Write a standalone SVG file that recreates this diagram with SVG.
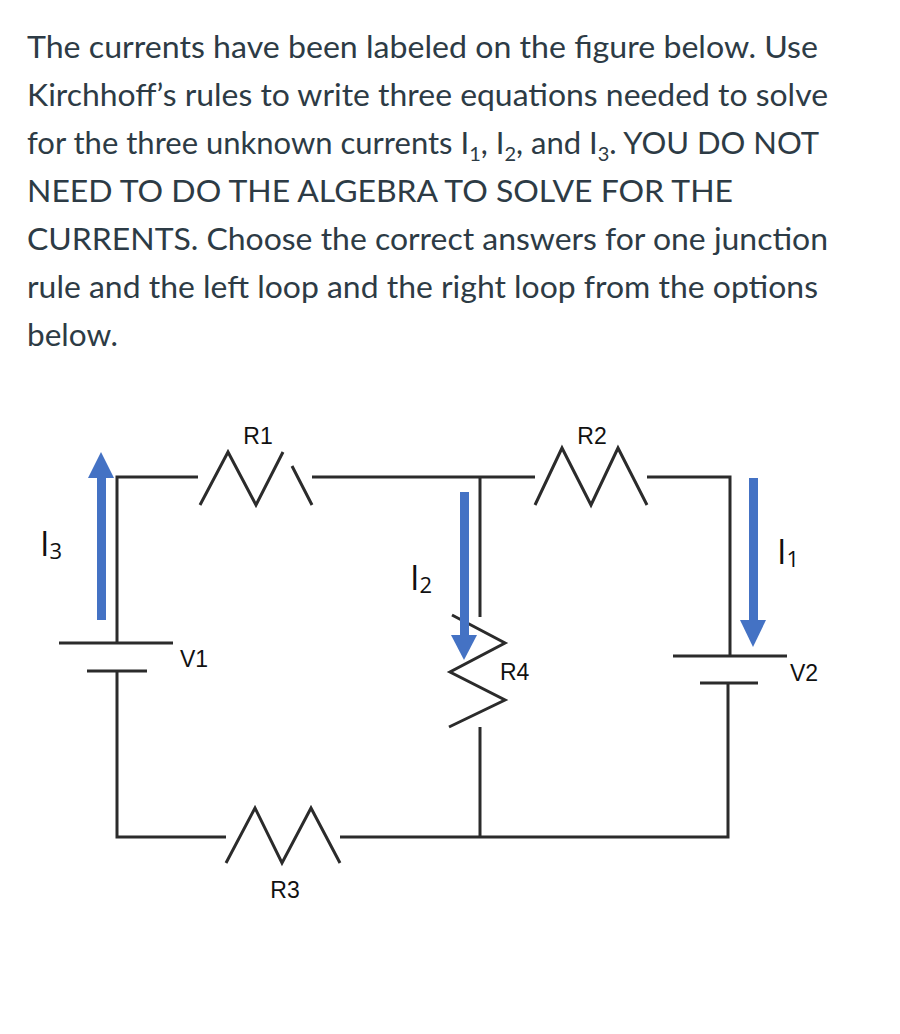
<svg xmlns="http://www.w3.org/2000/svg" width="900" height="1034" viewBox="0 0 900 1034">
<style>
.p{font-family:Lato,"Open Sans",sans-serif;font-size:31px;fill:#2d3b45}
.w{stroke:#2b2b2b;stroke-width:3;fill:none}
.l{font-family:"Liberation Sans",Arial,sans-serif;font-size:23px;fill:#111}
.c{font-family:"Open Sans",Lato,sans-serif;font-size:34px;fill:#111}
.a{fill:#4472c4}
</style>
<rect width="900" height="1034" fill="#fff"/>
<g id="question">
<text class="p" x="27" y="58" textLength="791" lengthAdjust="spacingAndGlyphs">The currents have been labeled on the figure below.  Use</text>
<text class="p" x="27" y="106" textLength="801" lengthAdjust="spacingAndGlyphs">Kirchhoff’s rules to write three equations needed to solve</text>
<text class="p" x="27" y="154">for the three unknown currents I<tspan font-size="20" dy="7">1</tspan><tspan dy="-7">, I</tspan><tspan font-size="20" dy="7">2</tspan><tspan dy="-7">, and I</tspan><tspan font-size="20" dy="7">3</tspan><tspan dy="-7">.  YOU DO NOT</tspan></text>
<text class="p" x="27" y="202" textLength="706" lengthAdjust="spacingAndGlyphs">NEED TO DO THE ALGEBRA TO SOLVE FOR THE</text>
<text class="p" x="27" y="250" textLength="801" lengthAdjust="spacingAndGlyphs">CURRENTS. Choose the correct answers for one junction</text>
<text class="p" x="27" y="298" textLength="791" lengthAdjust="spacingAndGlyphs">rule and the left loop and the right loop from the options</text>
<text class="p" x="27" y="346" textLength="91" lengthAdjust="spacingAndGlyphs">below.</text>
</g>
<g id="connectors">
<path class="w" d="M117 643 V477 H198"/>
<path class="w" d="M312 477 H535"/>
<path class="w" d="M480 477 V617"/>
<path class="w" d="M647 477 H730 V656"/>
<path class="w" d="M117 671 V837 H226"/>
<path class="w" d="M340 837 H728 V683"/>
<path class="w" d="M480 727 V837"/>
</g>
<g id="R1"><path class="w" d="M200 505 L228 452 L256 505 L283 452 M292 466 L312 505"/><text class="l" x="258" y="444" text-anchor="middle">R1</text></g>
<g id="R2"><path class="w" d="M535 505 L562 448 L591 505 L618 448 L647 505"/><text class="l" x="592" y="444" text-anchor="middle">R2</text></g>
<g id="R3"><path class="w" d="M226 863 L255 808 L282 863 L311 808 L340 863"/><text class="l" x="285" y="898" text-anchor="middle">R3</text></g>
<g id="R4"><path class="w" d="M452 615 L505 643 L450 672 L505 700 L449 727"/><text class="l" x="500" y="680">R4</text></g>
<g id="V1"><path class="w" d="M59 643 H173 M87 671 H147"/><text class="l" x="180" y="667">V1</text></g>
<g id="V2"><path class="w" d="M673 656 H787 M700 683 H758"/><text class="l" x="790" y="681">V2</text></g>
<g id="I3"><rect class="a" x="97" y="476" width="9" height="144"/><path class="a" d="M88 478 L101 452 L114 478Z"/><text class="c" x="40" y="556">I<tspan font-size="22" dy="3">3</tspan></text></g>
<g id="I2"><rect class="a" x="460" y="492" width="9" height="145"/><path class="a" d="M451 635 L464 660 L477 635Z"/><text class="c" x="410" y="590">I<tspan font-size="22" dy="3">2</tspan></text></g>
<g id="I1"><rect class="a" x="749" y="478" width="9" height="144"/><path class="a" d="M740 620 L753 647 L766 620Z"/><text class="c" x="777" y="564">I<tspan font-size="22" dy="3">1</tspan></text></g>
</svg>
